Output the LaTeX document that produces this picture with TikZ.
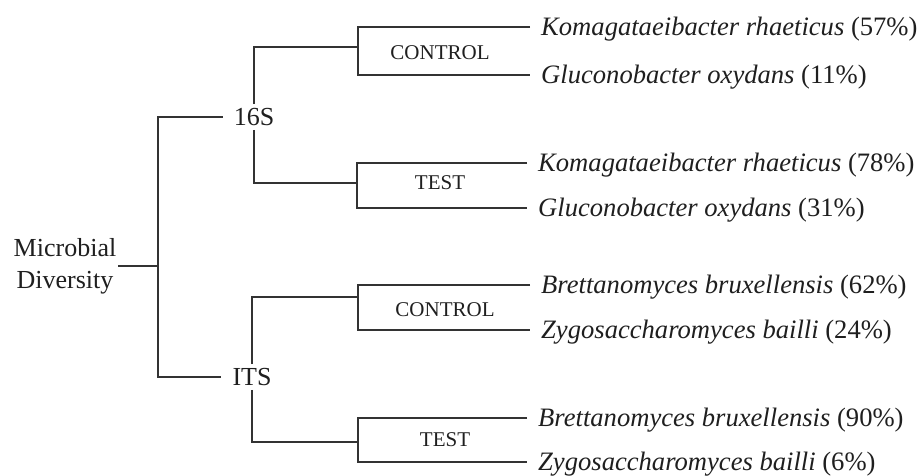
\documentclass[tikz,border=0pt]{standalone}
\usepackage{fontspec}
\setmainfont{Liberation Serif}
\begin{document}
\begin{tikzpicture}[x=1pt,y=-1pt,
  br/.style={line width=1.5pt, draw=black!80},
  bigtxt/.style={font=\fontsize{26}{32}\selectfont, text=black!88},
  lvl/.style={bigtxt, inner xsep=11pt, inner ysep=4pt},
  grp/.style={font=\fontsize{21}{25}\selectfont, text=black!88, inner sep=1pt},
  leaf/.style={font=\fontsize{26.6}{32}\selectfont, text=black!88, anchor=west, inner xsep=11pt, inner ysep=0pt, text height=17pt, text depth=0pt}
]
\useasboundingbox (0,0) rectangle (922,475);

% root and first level
\node[bigtxt, align=center, inner sep=2pt] (root) at (65,266) {Microbial\\Diversity};
\coordinate (rj) at (158,266);
\node[lvl] (s16) at (254,117) {16S};
\node[lvl] (its) at (252,377) {ITS};

% group labels
\node[grp] (g1) at (440,53) {CONTROL};
\node[grp] (g2) at (440,183) {TEST};
\node[grp] (g3) at (445,310) {CONTROL};
\node[grp] (g4) at (445,440) {TEST};

% branch points
\coordinate (k1) at (358,47);
\coordinate (k2) at (357,183);
\coordinate (k3) at (358,297);
\coordinate (k4) at (358,442);

% leaves
\node[leaf] (l1) at (530,27) {\textit{Komagataeibacter rhaeticus} (57\%)};
\node[leaf] (l2) at (530,75) {\textit{Gluconobacter oxydans} (11\%)};
\node[leaf] (l3) at (527,163) {\textit{Komagataeibacter rhaeticus} (78\%)};
\node[leaf] (l4) at (527,208) {\textit{Gluconobacter oxydans} (31\%)};
\node[leaf] (l5) at (530,285) {\textit{Brettanomyces bruxellensis} (62\%)};
\node[leaf] (l6) at (530,330) {\textit{Zygosaccharomyces bailli} (24\%)};
\node[leaf] (l7) at (527,418) {\textit{Brettanomyces bruxellensis} (90\%)};
\node[leaf] (l8) at (527,462) {\textit{Zygosaccharomyces bailli} (6\%)};

% connectors
\draw[br] (root.east) -- (rj);
\draw[br] (s16.west) -| (rj) |- (its.west);
\draw[br] (s16.north) |- (k1);
\draw[br] (s16.south) |- (k2);
\draw[br] (its.north) |- (k3);
\draw[br] (its.south) |- (k4);
\draw[br] (l1.west) -| (k1) |- (l2.west);
\draw[br] (l3.west) -| (k2) |- (l4.west);
\draw[br] (l5.west) -| (k3) |- (l6.west);
\draw[br] (l7.west) -| (k4) |- (l8.west);
\end{tikzpicture}
\end{document}
